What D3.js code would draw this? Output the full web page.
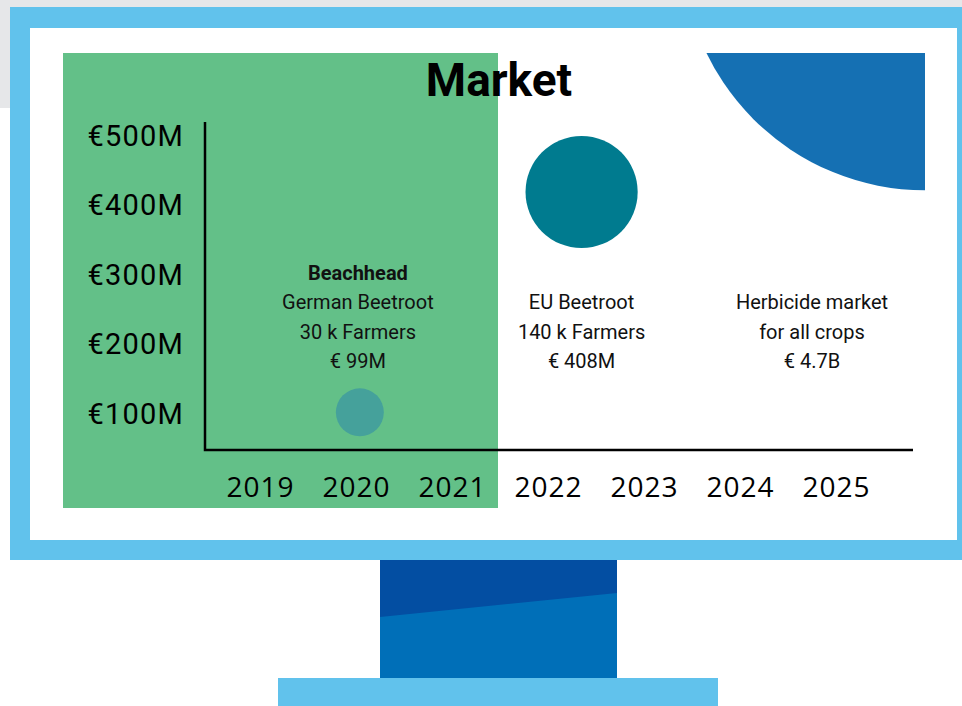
<!DOCTYPE html>
<html>
<head>
<meta charset="utf-8">
<script src="https://cdn.jsdelivr.net/npm/d3@7/dist/d3.min.js"></script>
<style>
  html, body { margin: 0; padding: 0; background: #ffffff; }
  svg { display: block; }
</style>
</head>
<body>
<svg id="chart" width="962" height="706"></svg>
<script>
// ---- data ----
const years = [2019, 2020, 2021, 2022, 2023, 2024, 2025];
const yTicks = [100, 200, 300, 400, 500];
const marketValues = [99, 408, 4700];          // € million (bubble size)
const bubbleYear = [2020.04, 2022.35, 2025.93];   // x position (year)
const bubbleLevel = [101, 418, 770];           // y position (€M on axis)
const bubbleColors = ["#45a19b", "#007b8f", "#1570b3"];
const labelHeads = ["Beachhead", "", ""];
const labelYear = [2020.02, 2022.35, 2024.75];
const labelLines = [
  ["German Beetroot", "30 k Farmers", "€ 99M"],
  ["EU Beetroot", "140 k Farmers", "€ 408M"],
  ["Herbicide market", "for all crops", "€ 4.7B"]
];
const title = "Market";

// ---- drawing ----
const svg = d3.select("#chart");

// background + monitor frame
svg.append("rect").attr("x", 0).attr("y", 0).attr("width", 962).attr("height", 108).attr("fill", "#e6e7e9");
svg.append("rect").attr("x", 10).attr("y", 7).attr("width", 960).attr("height", 553).attr("fill", "#61c2ec");
svg.append("rect").attr("x", 30).attr("y", 28).attr("width", 927).attr("height", 512).attr("fill", "#ffffff");
// stand
svg.append("rect").attr("x", 380).attr("y", 560).attr("width", 237).attr("height", 118).attr("fill", "#006fb8");
svg.append("path").attr("d", "M380,560 L617,560 L617,593 L380,617 Z").attr("fill", "#034ea2");
svg.append("rect").attr("x", 278).attr("y", 678).attr("width", 440).attr("height", 28).attr("fill", "#61c2ec");

// slide content
svg.append("defs").append("clipPath").attr("id", "slideClip")
  .append("rect").attr("x", 63).attr("y", 53).attr("width", 862).attr("height", 455);

// beachhead highlight
svg.append("rect").attr("x", 63).attr("y", 53).attr("width", 435).attr("height", 455).attr("fill", "#63c088");

const x = d3.scaleLinear().domain([2019, 2025]).range([260, 836]);
const y = d3.scaleLinear().domain([0, 500]).range([482.5, 135]);
const r = d3.scalePow().exponent(0.6).domain([0, 4700]).range([0, 243]);

// bubbles
const g = svg.append("g").attr("clip-path", "url(#slideClip)");
g.selectAll("circle").data(marketValues).join("circle")
  .attr("cx", (d, i) => x(bubbleYear[i]))
  .attr("cy", (d, i) => y(bubbleLevel[i]))
  .attr("r", d => r(d))
  .attr("fill", (d, i) => bubbleColors[i]);

// title
svg.append("text").attr("x", 499).attr("y", 96).attr("text-anchor", "middle")
  .attr("font-family", "Roboto, sans-serif").attr("font-weight", 700).attr("font-size", 46)
  .attr("fill", "#000").text(title);

// y axis
const yAxis = d3.axisLeft(y).tickValues(yTicks).tickSize(0).tickPadding(0)
  .tickFormat(d => "€" + d + "M");
const yg = svg.append("g").attr("transform", "translate(184,0)").call(yAxis);
yg.select(".domain").remove();
yg.selectAll("text").attr("font-family", "Roboto, sans-serif").attr("font-size", 29)
  .attr("letter-spacing", 1.2).attr("fill", "#000").attr("dy", "0.36em");

// x axis
const xAxis = d3.axisBottom(x).tickValues(years).tickSize(0).tickPadding(0).tickFormat(d3.format("d"));
const xg = svg.append("g").attr("transform", "translate(0,497)").call(xAxis);
xg.select(".domain").remove();
xg.selectAll("text").attr("font-family", "'Open Sans', sans-serif").attr("font-size", 28)
  .attr("letter-spacing", 1).attr("fill", "#000").attr("dy", 0);

// axis lines
svg.append("path").attr("d", "M205,122 L205,450 L913,450")
  .attr("fill", "none").attr("stroke", "#000").attr("stroke-width", 2.5);

// labels
const lg = svg.append("g").attr("font-family", "Roboto, sans-serif").attr("font-size", 20).attr("fill", "#111");
labelLines.forEach((lines, i) => {
  const cx = x(labelYear[i]);
  if (labelHeads[i]) {
    lg.append("text").attr("x", cx).attr("y", 280).attr("text-anchor", "middle")
      .attr("font-weight", 700).text(labelHeads[i]);
  }
  lines.forEach((t, j) => {
    lg.append("text").attr("x", cx).attr("y", 309 + j * 29.5).attr("text-anchor", "middle").text(t);
  });
});
</script>
</body>
</html>
